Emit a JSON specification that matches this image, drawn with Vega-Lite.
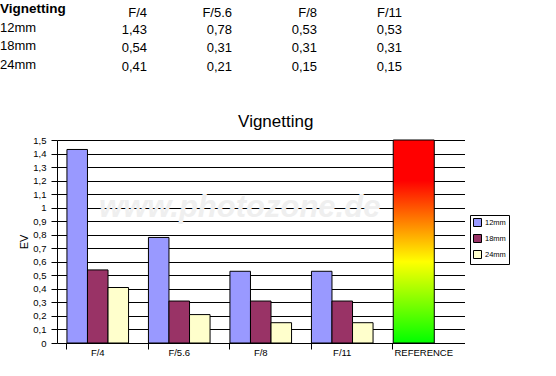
{
  "$schema": "https://vega.github.io/schema/vega-lite/v6.json",
  "width": 395,
  "height": 203,
  "autosize": {"type": "none"},
  "padding": {"left": 57, "top": 140, "right": 104, "bottom": 33},
  "background": "white",
  "config": {
    "locale": {"number": {"decimal": ",", "thousands": ".", "grouping": [3], "currency": ["", " €"]}},
    "view": {"stroke": null},
    "font": "Liberation Sans",
    "text": {"color": "black"}
  },
  "datasets": {
    "vignetting": [
      {"lens": "12mm", "aperture": "F/4", "ev": 1.43},
      {"lens": "12mm", "aperture": "F/5.6", "ev": 0.78},
      {"lens": "12mm", "aperture": "F/8", "ev": 0.53},
      {"lens": "12mm", "aperture": "F/11", "ev": 0.53},
      {"lens": "18mm", "aperture": "F/4", "ev": 0.54},
      {"lens": "18mm", "aperture": "F/5.6", "ev": 0.31},
      {"lens": "18mm", "aperture": "F/8", "ev": 0.31},
      {"lens": "18mm", "aperture": "F/11", "ev": 0.31},
      {"lens": "24mm", "aperture": "F/4", "ev": 0.41},
      {"lens": "24mm", "aperture": "F/5.6", "ev": 0.21},
      {"lens": "24mm", "aperture": "F/8", "ev": 0.15},
      {"lens": "24mm", "aperture": "F/11", "ev": 0.15}
    ]
  },
  "layer": [
    {
      "layer": [
        {
          "data": {"values": [{"site": "www.photozone.de"}]},
          "mark": {"type": "text", "font": "Liberation Sans", "fontSize": 31, "fontWeight": "bold", "fontStyle": "italic", "color": "#efefef", "align": "center", "baseline": "middle", "dx": -21},
          "encoding": {
            "x": {"datum": "F/8", "type": "nominal", "scale": {"domain": ["F/4", "F/5.6", "F/8", "F/11", "REFERENCE"]}},
            "y": {"datum": 1.0, "type": "quantitative", "scale": {"domain": [0, 1.5], "nice": false}},
            "text": {"field": "site"}
          }
        },
        {
          "data": {"name": "vignetting"},
          "mark": {"type": "bar", "stroke": "black", "strokeWidth": 1},
          "encoding": {
            "x": {
              "field": "aperture", "type": "nominal",
              "scale": {"domain": ["F/4", "F/5.6", "F/8", "F/11", "REFERENCE"], "range": [0, 407.5], "paddingInner": 0.244, "paddingOuter": 0.122},
              "axis": {"title": null, "bandPosition": 0, "labelAlign": "center", "domain": false, "grid": false, "ticks": true, "tickColor": "black", "tickSize": 6, "labelAngle": 0, "labelColor": "black", "labelFont": "Liberation Sans", "labelFontSize": 9.5, "labelPadding": 3}
            },
            "xOffset": {"field": "lens", "type": "nominal", "scale": {"domain": ["12mm", "18mm", "24mm"], "paddingInner": 0, "paddingOuter": 0}},
            "y": {
              "field": "ev", "type": "quantitative",
              "scale": {"domain": [0, 1.5], "nice": false},
              "axis": {"title": "EV", "values": [0, 0.1, 0.2, 0.3, 0.4, 0.5, 0.6, 0.7, 0.8, 0.9, 1, 1.1, 1.2, 1.3, 1.4, 1.5], "tickCount": 20, "labelOverlap": false, "format": ".1~f", "grid": true, "gridColor": "black", "gridOpacity": 1, "gridWidth": 1, "domainColor": "black", "tickColor": "black", "tickSize": 6, "labelColor": "black", "labelFont": "Liberation Sans", "labelFontSize": 9.5, "labelPadding": 5, "titleFont": "Liberation Sans", "titleFontSize": 11, "titleFontWeight": "normal", "titleColor": "black", "titlePadding": 3}
            },
            "color": {
              "field": "lens", "type": "nominal",
              "scale": {"domain": ["12mm", "18mm", "24mm"], "range": ["#9999ff", "#993366", "#ffffcc"]},
              "legend": {"title": null, "orient": "none", "legendX": 413, "legendY": 75, "strokeColor": "black", "fillColor": "white", "padding": 3, "symbolType": "square", "symbolSize": 64, "symbolStrokeColor": "black", "symbolStrokeWidth": 1, "symbolOpacity": 1, "labelFont": "Liberation Sans", "labelFontSize": 7.5, "labelColor": "black", "labelOffset": 3, "rowPadding": 3}
            }
          }
        },
        {
          "data": {"values": [{"aperture": "REFERENCE", "ev": 1.5}]},
          "mark": {
            "type": "bar", "stroke": "black", "strokeWidth": 1, "width": {"band": 0.666}, "xOffset": -10,
            "fill": {"gradient": "linear", "x1": 0, "y1": 1, "x2": 0, "y2": 0, "stops": [
              {"offset": 0, "color": "#00ff00"},
              {"offset": 0.4, "color": "#ffff00"},
              {"offset": 0.8, "color": "#ff0000"},
              {"offset": 1, "color": "#ff0000"}
            ]}
          },
          "encoding": {
            "x": {"field": "aperture", "type": "nominal", "scale": {"domain": ["F/4", "F/5.6", "F/8", "F/11", "REFERENCE"]}},
            "y": {"field": "ev", "type": "quantitative", "scale": {"domain": [0, 1.5], "nice": false}}
          }
        },
        {
          "data": {"values": [{"title": "Vignetting"}]},
          "mark": {"type": "text", "font": "Liberation Sans", "fontSize": 17, "align": "center", "baseline": "alphabetic", "dx": 15, "dy": -13, "color": "black"},
          "encoding": {
            "x": {"datum": "F/8", "type": "nominal", "scale": {"domain": ["F/4", "F/5.6", "F/8", "F/11", "REFERENCE"]}},
            "y": {"datum": 1.5, "type": "quantitative", "scale": {"domain": [0, 1.5], "nice": false}},
            "text": {"field": "title"}
          }
        }
      ]
    },
    {
      "layer": [
        {
          "data": {"values": [{"label": "Vignetting"}]},
          "mark": {"type": "text", "font": "Liberation Sans", "fontSize": 13.5, "fontWeight": "bold", "align": "left", "baseline": "alphabetic", "color": "black"},
          "encoding": {
            "x": {"field": "label", "type": "nominal", "scale": {"range": [-57, -57]}, "axis": null},
            "y": {"field": "label", "type": "nominal", "scale": {"domain": ["Vignetting", "12mm", "18mm", "24mm"], "range": [-127, -71], "padding": 0}, "axis": null},
            "text": {"field": "label"}
          }
        },
        {
          "data": {"name": "vignetting"},
          "transform": [{"filter": "datum.aperture == 'F/4'"}],
          "mark": {"type": "text", "font": "Liberation Sans", "fontSize": 13, "align": "left", "baseline": "alphabetic", "color": "black"},
          "encoding": {
            "x": {"field": "lens", "type": "nominal", "scale": {"range": [-57, -57]}, "axis": null},
            "y": {"field": "lens", "type": "nominal", "scale": {"domain": ["Vignetting", "12mm", "18mm", "24mm"], "range": [-127, -71], "padding": 0}, "axis": null},
            "text": {"field": "lens"}
          }
        },
        {
          "data": {"name": "vignetting"},
          "mark": {"type": "text", "font": "Liberation Sans", "fontSize": 13, "align": "right", "baseline": "alphabetic", "dy": 2, "color": "black"},
          "encoding": {
            "x": {"field": "aperture", "type": "nominal", "scale": {"domain": ["F/4", "F/5.6", "F/8", "F/11"], "range": [90, 345], "padding": 0}, "axis": null},
            "y": {"field": "lens", "type": "nominal", "scale": {"domain": ["Vignetting", "12mm", "18mm", "24mm"], "range": [-127, -71], "padding": 0}, "axis": null},
            "text": {"field": "ev", "type": "quantitative", "format": ".2f"}
          }
        },
        {
          "data": {"name": "vignetting"},
          "transform": [{"filter": "datum.lens == '12mm'"}],
          "mark": {"type": "text", "font": "Liberation Sans", "fontSize": 13, "align": "right", "baseline": "alphabetic", "dy": 4, "color": "black"},
          "encoding": {
            "x": {"field": "aperture", "type": "nominal", "scale": {"domain": ["F/4", "F/5.6", "F/8", "F/11"], "range": [90, 345], "padding": 0}, "axis": null},
            "y": {"datum": "Vignetting", "type": "nominal", "scale": {"domain": ["Vignetting", "12mm", "18mm", "24mm"], "range": [-127, -71], "padding": 0}, "axis": null},
            "text": {"field": "aperture"}
          }
        }
      ],
      "resolve": {"scale": {"x": "independent"}}
    }
  ],
  "resolve": {"scale": {"x": "independent", "y": "independent"}}
}
